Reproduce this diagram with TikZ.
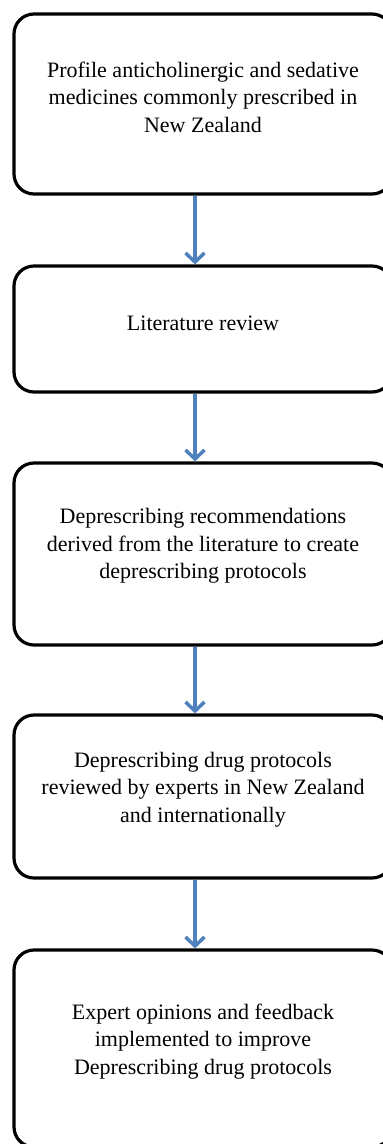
\documentclass[tikz,border=0pt]{standalone}
\usepackage{fontspec}
\setmainfont{Liberation Serif}
\usetikzlibrary{arrows.meta}
\definecolor{arrowblue}{HTML}{4F81BD}
\tikzset{
  stepbox/.style={draw=black, line width=3.2pt, rounded corners=20pt, inner sep=0pt},
  steptext/.style={align=center, inner sep=0pt, font=\fontsize{22}{27.5}\selectfont},
  flowarrow/.style={draw=arrowblue, line width=3.5pt, -{Straight Barb[length=9pt,width=19pt,line width=3.5pt]}}
}
\begin{document}
\begin{tikzpicture}[x=1pt,y=-1pt]
\useasboundingbox (0,0) rectangle (383,1144);
\clip (0,0) rectangle (383,1144);
\node[stepbox, minimum width=378pt, minimum height=180pt] (b1) at (203,104) {};
\node[stepbox, minimum width=378pt, minimum height=126pt] (b2) at (203,329) {};
\node[stepbox, minimum width=378pt, minimum height=182pt] (b3) at (203,554) {};
\node[stepbox, minimum width=378pt, minimum height=163pt] (b4) at (203,796.5) {};
\node[stepbox, minimum width=378pt, minimum height=197pt] (b5) at (203,1048.5) {};
\node[steptext] (t1) at ([yshift=7pt]b1.center) {Profile anticholinergic and sedative\\medicines commonly prescribed in\\New Zealand};
\node[steptext] (t2) at ([yshift=6pt]b2.center) {Literature review};
\node[steptext] (t3) at ([yshift=8pt]b3.center) {Deprescribing recommendations\\derived from the literature to create\\deprescribing protocols};
\node[steptext] (t4) at ([yshift=7pt]b4.center) {Deprescribing drug protocols\\reviewed by experts in New Zealand\\and internationally};
\node[steptext] (t5) at ([yshift=7pt]b5.center) {Expert opinions and feedback\\implemented to improve\\Deprescribing drug protocols};
\draw[flowarrow] ([xshift=-8pt]b1.south) -- ([xshift=-8pt]b2.north);
\draw[flowarrow] ([xshift=-8pt]b2.south) -- ([xshift=-8pt]b3.north);
\draw[flowarrow] ([xshift=-8pt]b3.south) -- ([xshift=-8pt]b4.north);
\draw[flowarrow] ([xshift=-8pt]b4.south) -- ([xshift=-8pt]b5.north);
\end{tikzpicture}
\end{document}
